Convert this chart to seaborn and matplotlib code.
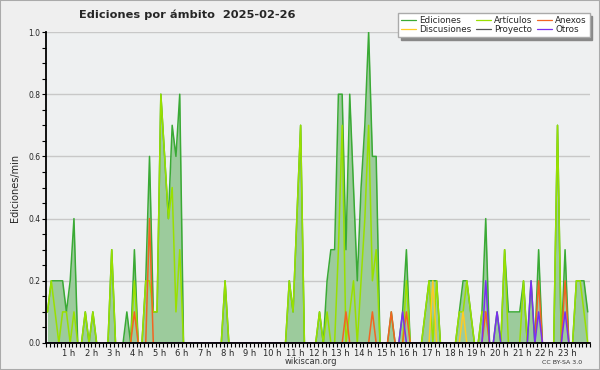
import numpy as np
import pandas as pd
import matplotlib
matplotlib.use("Agg")
import matplotlib.pyplot as plt
import matplotlib.patches as mpatches
import seaborn as sns
from matplotlib.ticker import MultipleLocator

# edits per minute, one value per 10-minute slot (144 slots)
ediciones = [
    .1, .2, .2, .2, .2, .1, .2, .4, 0, 0, .1, 0,
    .1, 0, 0, 0, 0, .3, 0, 0, 0, .1, 0, .3,
    0, 0, .2, .6, .1, .1, .8, .6, .4, .7, .6, .8,
    0, 0, 0, 0, 0, 0, 0, 0, 0, 0, 0, .2,
    0, 0, 0, 0, 0, 0, 0, 0, 0, 0, 0, 0,
    0, 0, 0, 0, .2, .1, .4, .7, 0, 0, 0, 0,
    .1, 0, .2, .3, .3, .8, .8, .3, .8, .5, .2, .5,
    .7, 1.0, .6, .6, 0, 0, 0, .1, 0, 0, .1, .3,
    0, 0, 0, 0, .1, .2, .2, .2, 0, 0, 0, 0,
    0, .1, .2, .2, .1, 0, 0, .1, .4, 0, 0, .1,
    0, .3, .1, .1, .1, .1, .2, 0, .2, 0, .3, 0,
    0, 0, 0, .7, 0, .3, 0, 0, .2, .2, .2, .1,
]
articulos = [
    .1, .2, .1, 0, .1, .1, 0, .1, 0, 0, .1, 0,
    .1, 0, 0, 0, 0, .3, 0, 0, 0, 0, 0, .2,
    0, 0, .2, .2, .1, .1, .8, .6, .4, .5, .1, .3,
    0, 0, 0, 0, 0, 0, 0, 0, 0, 0, 0, .2,
    0, 0, 0, 0, 0, 0, 0, 0, 0, 0, 0, 0,
    0, 0, 0, 0, .2, .1, .4, .7, 0, 0, 0, 0,
    .1, 0, .1, 0, 0, .3, .7, 0, .1, .2, 0, .2,
    .4, .7, .2, .3, 0, 0, 0, 0, 0, 0, 0, .2,
    0, 0, 0, 0, .1, .2, 0, .2, 0, 0, 0, 0,
    0, .1, .1, .2, .1, 0, 0, .1, .1, 0, 0, 0,
    0, .3, 0, 0, 0, 0, .2, 0, 0, 0, 0, 0,
    0, 0, 0, .7, 0, 0, 0, 0, .2, .2, .1, 0,
]
discusiones = [
    0, 0, 0, 0, 0, 0, 0, 0, 0, 0, 0, 0,
    0, 0, 0, 0, 0, 0, 0, 0, 0, 0, 0, 0,
    0, 0, 0, 0, 0, 0, 0, 0, 0, 0, 0, 0,
    0, 0, 0, 0, 0, 0, 0, 0, 0, 0, 0, 0,
    0, 0, 0, 0, 0, 0, 0, 0, 0, 0, 0, 0,
    0, 0, 0, 0, 0, 0, 0, 0, 0, 0, 0, 0,
    0, 0, 0, 0, 0, 0, 0, 0, 0, 0, 0, 0,
    0, 0, 0, 0, 0, 0, 0, 0, 0, 0, 0, 0,
    0, 0, 0, 0, 0, 0, .2, 0, 0, 0, 0, 0,
    0, 0, .1, 0, 0, 0, 0, 0, 0, 0, 0, 0,
    0, 0, 0, 0, 0, 0, 0, 0, 0, 0, 0, 0,
    0, 0, 0, 0, 0, 0, 0, 0, 0, 0, 0, 0,
]
proyecto = [0] * 144
anexos = [
    0, 0, 0, 0, 0, 0, 0, 0, 0, 0, 0, 0,
    0, 0, 0, 0, 0, 0, 0, 0, 0, 0, 0, .1,
    0, 0, 0, .4, 0, 0, 0, 0, 0, 0, 0, 0,
    0, 0, 0, 0, 0, 0, 0, 0, 0, 0, 0, 0,
    0, 0, 0, 0, 0, 0, 0, 0, 0, 0, 0, 0,
    0, 0, 0, 0, 0, 0, 0, 0, 0, 0, 0, 0,
    0, 0, 0, 0, 0, 0, 0, .1, 0, 0, 0, 0,
    0, 0, .1, 0, 0, 0, 0, .1, 0, 0, 0, .1,
    0, 0, 0, 0, 0, 0, 0, 0, 0, 0, 0, 0,
    0, 0, 0, 0, 0, 0, 0, 0, .1, 0, 0, 0,
    0, 0, 0, 0, 0, 0, 0, 0, 0, 0, .2, 0,
    0, 0, 0, 0, 0, .2, 0, 0, 0, 0, 0, 0,
]
otros = [
    0, 0, 0, 0, 0, 0, 0, 0, 0, 0, 0, 0,
    0, 0, 0, 0, 0, 0, 0, 0, 0, 0, 0, 0,
    0, 0, 0, 0, 0, 0, 0, 0, 0, 0, 0, 0,
    0, 0, 0, 0, 0, 0, 0, 0, 0, 0, 0, 0,
    0, 0, 0, 0, 0, 0, 0, 0, 0, 0, 0, 0,
    0, 0, 0, 0, 0, 0, 0, 0, 0, 0, 0, 0,
    0, 0, 0, 0, 0, 0, 0, 0, 0, 0, 0, 0,
    0, 0, 0, 0, 0, 0, 0, 0, 0, 0, .1, 0,
    0, 0, 0, 0, 0, 0, 0, 0, 0, 0, 0, 0,
    0, 0, 0, 0, 0, 0, 0, 0, .2, 0, 0, .1,
    0, 0, 0, 0, 0, 0, 0, 0, .2, 0, .1, 0,
    0, 0, 0, 0, 0, .1, 0, 0, 0, 0, 0, 0,
]
hour_ticks = list(range(1, 24))
hour_labels = [f"{h} h" for h in hour_ticks]
y_ticks = [0.0, 0.2, 0.4, 0.6, 0.8, 1.0]

series = [
    ("Ediciones", ediciones, "#3aaa35"),
    ("Artículos", articulos, "#99e000"),
    ("Discusiones", discusiones, "#ffcc22"),
    ("Proyecto", proyecto, "#555555"),
    ("Anexos", anexos, "#f26522"),
    ("Otros", otros, "#7a2ff0"),
]

sns.set_style("ticks")
plt.rcParams["font.family"] = ["DejaVu Sans"]

t = (np.arange(len(ediciones)) + 0.4) / 6.0
df = pd.DataFrame({"t": t})
for name, vals, _ in series:
    df[name] = vals

fig = plt.figure(figsize=(6, 3.7), dpi=100, facecolor="#efefef")
ax = fig.add_axes([46 / 600, 27 / 370, 544 / 600, 311 / 370])
ax.set_facecolor("#eef0f1")

ax.fill_between(df["t"], df["Ediciones"], 0, color="#9ccb9c", lw=0, zorder=1)
handles = {}
for name, _, color in series:
    sns.lineplot(data=df, x="t", y=name, ax=ax, color=color, lw=1.1,
                 label=name, legend=False, zorder=2)
    handles[name] = ax.lines[-1]

ax.set_xlim(0, 24)
ax.set_ylim(0, 1.0)
ax.set_xticks(hour_ticks)
ax.set_xticklabels(hour_labels, fontsize=6)
ax.xaxis.set_minor_locator(MultipleLocator(1 / 6))
ax.set_yticks(y_ticks)
ax.set_yticklabels([f"{v:.1f}" for v in y_ticks], fontsize=5.5)
ax.yaxis.set_minor_locator(MultipleLocator(0.05))
ax.tick_params(axis="both", which="both", length=3, width=0.8, color="black", pad=1)
ax.grid(axis="y", color="#c8c8c8", lw=1)
ax.set_axisbelow(True)
for s in ["top", "right"]:
    ax.spines[s].set_visible(False)
for s in ["left", "bottom"]:
    ax.spines[s].set_linewidth(1.3)
    ax.spines[s].set_color("black")
    ax.spines[s].set_zorder(3)
ax.set_xlabel("")
ax.set_ylabel("Ediciones/min", fontsize=7, labelpad=6)

order = ["Ediciones", "Discusiones", "Artículos", "Proyecto", "Anexos", "Otros"]
leg = fig.legend([handles[n] for n in order], order, ncol=3,
                 loc="upper right", bbox_to_anchor=(594 / 600, 1 - 9 / 370),
                 fontsize=6.3, frameon=True, fancybox=False,
                 edgecolor="#aaaaaa", facecolor="white", framealpha=1,
                 handlelength=1.7, handletextpad=0.4, columnspacing=0.5,
                 labelspacing=0.05, borderpad=0.3,
                 shadow={"color": "#888888", "alpha": 1})
for line in leg.get_lines():
    line.set_linewidth(0.9)

fig.text(187 / 600, 1 - 15 / 370, "Ediciones por ámbito  2025-02-26",
         ha="center", va="center", fontsize=8.2, fontweight="bold")
fig.text(311 / 600, 1 - 362 / 370, "wikiscan.org", ha="center", va="center",
         fontsize=6, color="#333333")
fig.text(562 / 600, 1 - 362 / 370, "CC BY-SA 3.0", ha="center", va="center",
         fontsize=4.5, color="#333333")
fig.patches.append(mpatches.Rectangle((0, 0), 1, 1, transform=fig.transFigure,
                                      fill=False, edgecolor="#aaaaaa", lw=1.5))

fig.savefig("out.png", dpi=100, facecolor=fig.get_facecolor())
